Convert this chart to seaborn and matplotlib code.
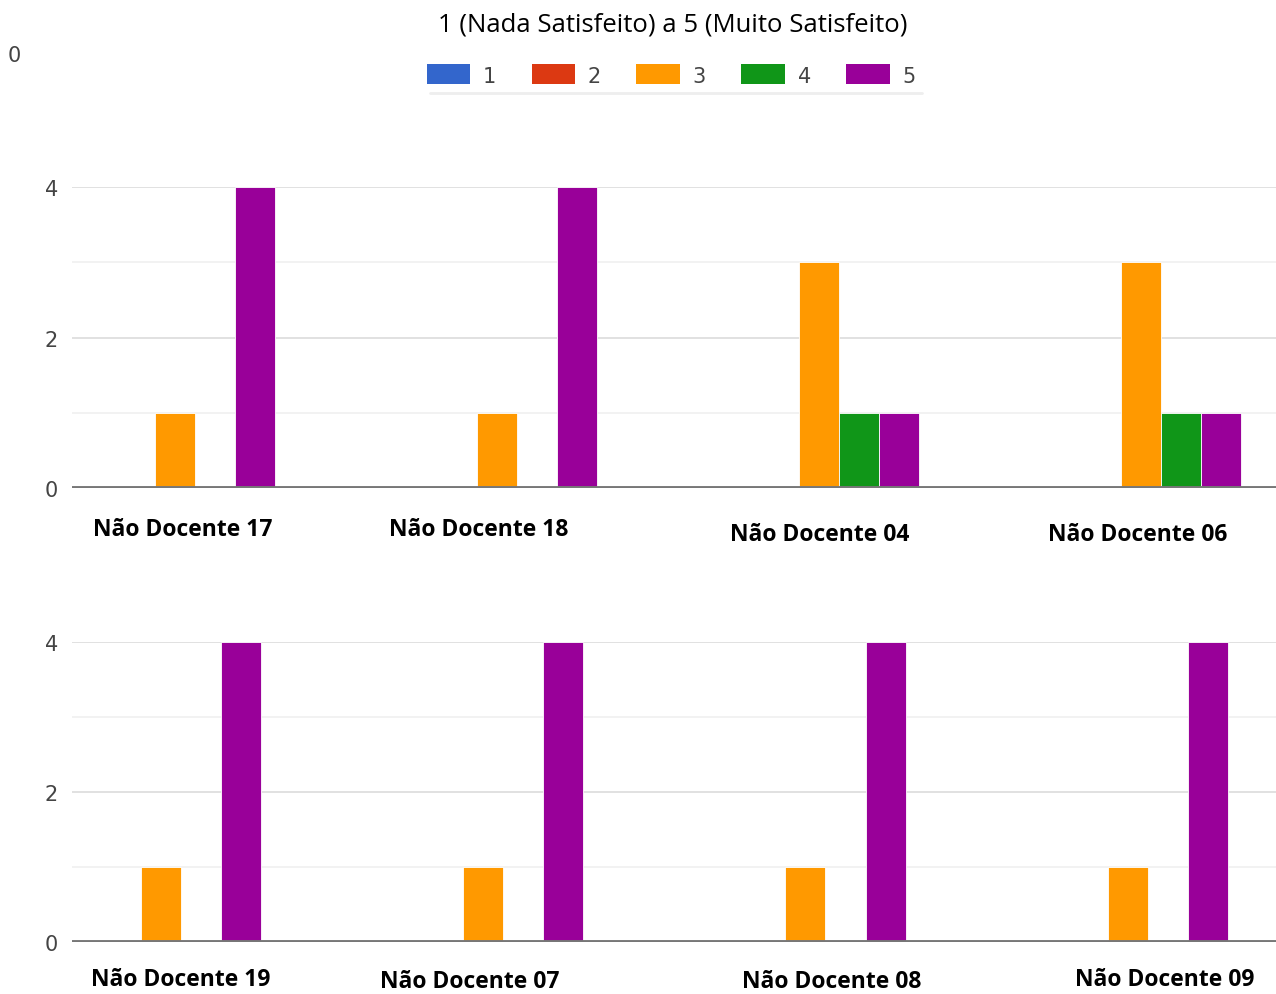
import pandas as pd
import numpy as np
import seaborn as sns
import matplotlib.pyplot as plt
from matplotlib.patches import Patch
from matplotlib.lines import Line2D
from matplotlib.transforms import ScaledTranslation

# dados
notas = ["1", "2", "3", "4", "5"]
cores = ["#3366CC", "#DC3912", "#FF9900", "#109618", "#990099"]

grupos_cima = ["Não Docente 17", "Não Docente 18", "Não Docente 04", "Não Docente 06"]
valores_cima = [
    [0, 0, 1, 0, 4],
    [0, 0, 1, 0, 4],
    [0, 0, 3, 1, 1],
    [0, 0, 3, 1, 1],
]

grupos_baixo = ["Não Docente 19", "Não Docente 07", "Não Docente 08", "Não Docente 09"]
valores_baixo = [
    [0, 0, 1, 0, 4],
    [0, 0, 1, 0, 4],
    [0, 0, 1, 0, 4],
    [0, 0, 1, 0, 4],
]


def tabela(grupos, valores):
    linhas = []
    for g, vals in zip(grupos, valores):
        for n, v in zip(notas, vals):
            linhas.append({"Grupo": g, "Nota": n, "Total": v})
    return pd.DataFrame(linhas)


sns.set_theme(style="white")
plt.rcParams["font.family"] = ["Open Sans", "DejaVu Sans"]

fig = plt.figure(figsize=(12.76, 9.95), dpi=100)
ax1 = fig.add_axes([0.0564, 0.5085, 0.9436, 0.3025])
ax2 = fig.add_axes([0.0564, 0.0523, 0.9436, 0.3015])

# deslocamentos dos rótulos (px) como na imagem
desloc_cima = [(8, 0), (-18, 0), (1, -5), (-3, -5)]
desloc_baixo = [(20, 1), (-13, -1), (26, -1), (37, 1)]

for ax, grupos, valores, xlim, desloc, pad in [
    (ax1, grupos_cima, valores_cima, (-0.32, 3.42), desloc_cima, 21),
    (ax2, grupos_baixo, valores_baixo, (-0.276, 3.46), desloc_baixo, 19),
]:
    df = tabela(grupos, valores)
    sns.barplot(
        data=df, x="Grupo", y="Total", hue="Nota", hue_order=notas,
        palette=cores, width=0.621, gap=0, saturation=1,
        edgecolor="white", linewidth=0.6, legend=False, ax=ax,
    )
    ax.set_xlim(*xlim)
    ax.set_ylim(0, 4)
    for y in [1, 3]:
        ax.axhline(y, color="#f0f0f0", lw=1.2, zorder=0)
    for y in [2, 4]:
        ax.axhline(y, color="#dcdcdc", lw=1.2, zorder=0)
    ax.axhline(0, color="#777777", lw=2.8, zorder=5)
    ax.set_yticks([0, 2, 4])
    ax.set_yticklabels(["0", "2", "4"], color="#444444", fontsize=15,
                       family=["DejaVu Sans"])
    ax.tick_params(axis="y", length=0, pad=10)
    ax.tick_params(axis="x", length=0, pad=pad)
    ax.set_xticks(range(4))
    ax.set_xticklabels(grupos, fontsize=16.5, fontweight="bold", color="black")
    for lbl, (dx, dy) in zip(ax.get_xticklabels(), desloc):
        lbl.set_transform(lbl.get_transform()
                          + ScaledTranslation(dx / 100, dy / 100, fig.dpi_scale_trans))
    ax.set_xlabel("")
    ax.set_ylabel("")
    sns.despine(ax=ax, left=True, bottom=True)
    ax.set_facecolor("white")

fig.text(0.527, 0.975, "1 (Nada Satisfeito) a 5 (Muito Satisfeito)",
         ha="center", va="center", fontsize=18.5, color="black")
fig.text(0.011, 0.944, "0", ha="center", va="center", fontsize=15,
         color="#444444", family=["DejaVu Sans"])

handles = [Patch(facecolor=c, edgecolor="none") for c in cores]
fig.legend(handles, notas, loc="center", bbox_to_anchor=(0.526, 0.9236),
           ncol=5, frameon=False, handlelength=2.1, handleheight=1.1,
           columnspacing=1.7, handletextpad=0.6,
           labelcolor="#444444", prop={"family": "DejaVu Sans", "size": 15})
fig.add_artist(Line2D([430 / 1276, 922 / 1276], [1 - 94 / 995, 1 - 94 / 995],
                      color="#eeeeee", lw=2, transform=fig.transFigure))

fig.savefig("out.png", dpi=100)
